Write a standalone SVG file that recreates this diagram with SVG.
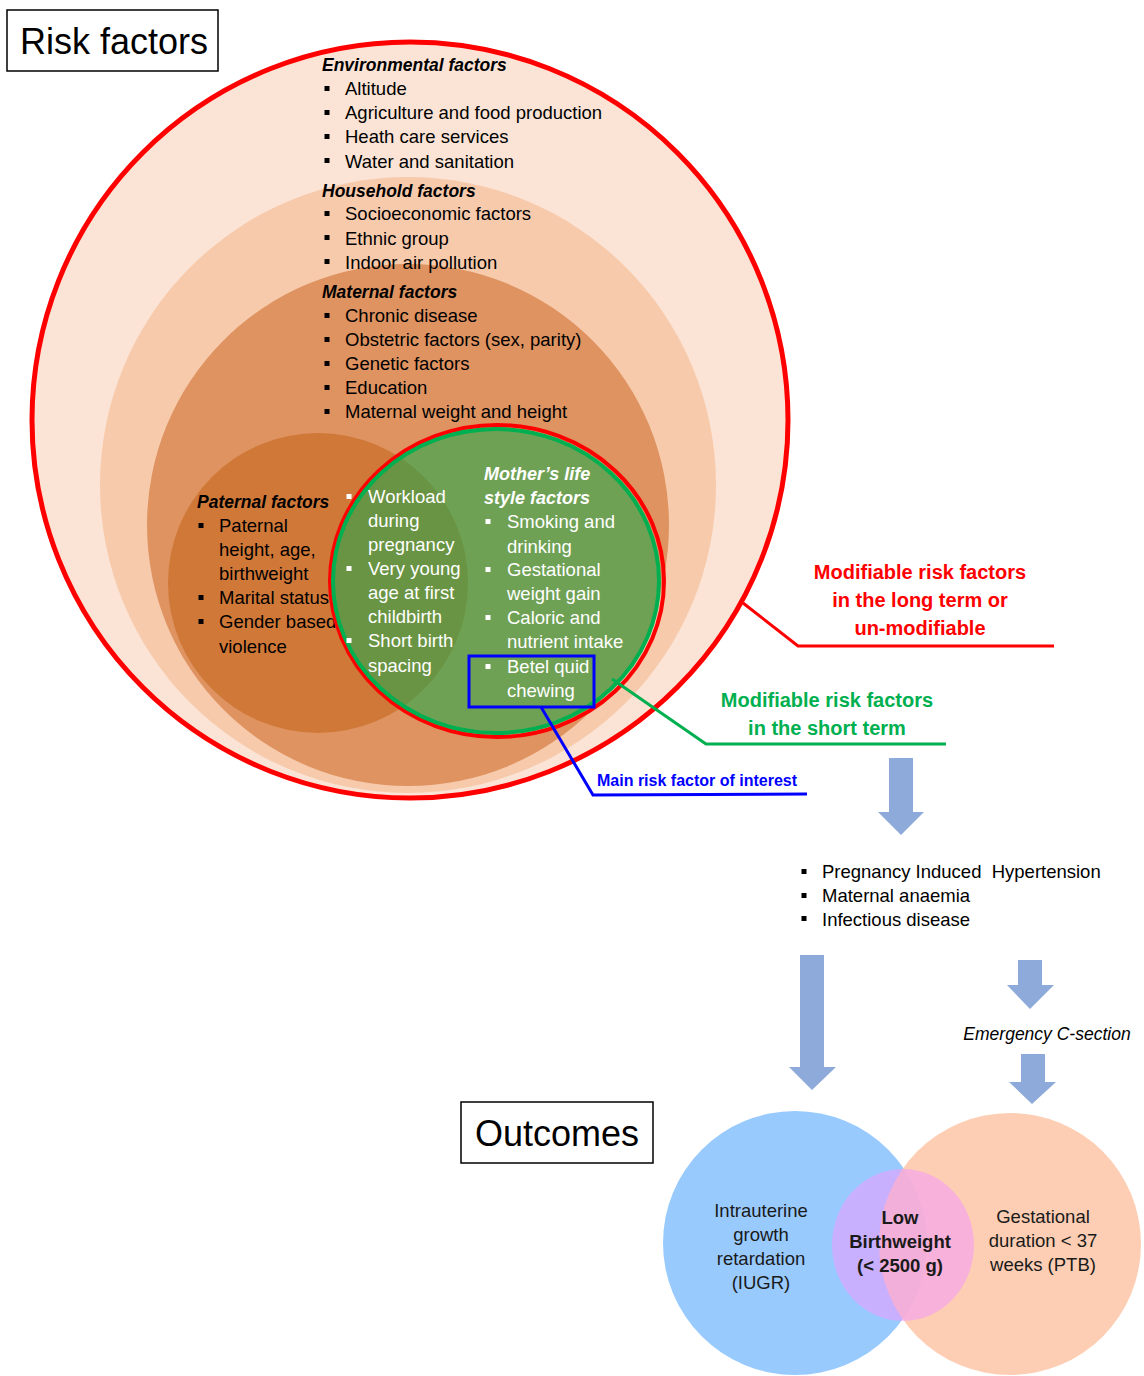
<svg xmlns="http://www.w3.org/2000/svg" width="1144" height="1376" viewBox="0 0 1144 1376">
<style>
text{font-family:"Liberation Sans",Arial,sans-serif;}
.b{font-size:18.5px;fill:#000;}
.w{font-size:18.5px;fill:#fff;}
.h{font-size:17.5px;font-weight:bold;font-style:italic;fill:#000;}
.hw{font-size:18px;font-weight:bold;font-style:italic;fill:#fff;}
.o{font-size:18.5px;fill:#1a1a1a;text-anchor:middle;}
.ob{font-size:18.5px;font-weight:bold;fill:#1a1a1a;text-anchor:middle;}
.red{font-size:20px;font-weight:bold;fill:#ff0000;text-anchor:middle;}
.grn{font-size:20px;font-weight:bold;fill:#00b050;text-anchor:middle;}
.blu{font-size:16px;font-weight:bold;fill:#0000ff;}
.ttl{font-size:36px;fill:#000;}
.bk{fill:#000;}
.wt{fill:#fff;}
.arrow{fill:#8eaadb;}
.lead{fill:none;stroke-width:3;}
</style>
<defs>
<clipPath id="greenClip"><ellipse cx="496" cy="581" rx="163" ry="152"/></clipPath>
</defs>
<rect width="1144" height="1376" fill="#fff"/>

<g id="title-risk">
<rect x="7" y="10" width="211" height="61" fill="#fff" stroke="#000" stroke-width="1.5"/>
<text class="ttl" x="20" y="54">Risk factors</text>
</g>

<g id="environmental">
<circle cx="410" cy="420" r="378" fill="#fbe4d5" stroke="#ff0000" stroke-width="5"/>
</g>
<g id="household">
<circle cx="408" cy="485" r="308" fill="#f7caac"/>
</g>
<g id="maternal">
<circle cx="408" cy="525" r="261" fill="#de9360"/>
</g>
<g id="paternal">
<circle cx="318" cy="583" r="150" fill="#d07838"/>
<text class="h" x="197" y="508">Paternal factors</text>
<rect class="bk" x="198.5" y="523" width="5" height="5"/><text class="b" x="219" y="532">Paternal</text>
<text class="b" x="219" y="556">height, age,</text>
<text class="b" x="219" y="580">birthweight</text>
<rect class="bk" x="198.5" y="595" width="5" height="5"/><text class="b" x="219" y="604">Marital status</text>
<rect class="bk" x="198.5" y="619" width="5" height="5"/><text class="b" x="219" y="628">Gender based</text>
<text class="b" x="219" y="653">violence</text>
</g>

<g id="lifestyle">
<ellipse cx="496" cy="581" rx="163" ry="152" fill="#6fa155"/>
<circle cx="318" cy="583" r="150" fill="#699443" clip-path="url(#greenClip)"/>
<ellipse cx="497" cy="581" rx="167" ry="156" fill="none" stroke="#ff0000" stroke-width="4"/>
<ellipse cx="496" cy="581" rx="163" ry="152" fill="none" stroke="#00b050" stroke-width="4"/>
<rect class="wt" x="346.5" y="494" width="5" height="5"/><text class="w" x="368" y="503">Workload</text>
<text class="w" x="368" y="527">during</text>
<text class="w" x="368" y="551">pregnancy</text>
<rect class="wt" x="346.5" y="566" width="5" height="5"/><text class="w" x="368" y="575">Very young</text>
<text class="w" x="368" y="599">age at first</text>
<text class="w" x="368" y="623">childbirth</text>
<rect class="wt" x="346.5" y="638" width="5" height="5"/><text class="w" x="368" y="647">Short birth</text>
<text class="w" x="368" y="672">spacing</text>
<text class="hw" x="484" y="480">Mother’s life</text>
<text class="hw" x="484" y="504">style factors</text>
<rect class="wt" x="485.5" y="519" width="5" height="5"/><text class="w" x="507" y="528">Smoking and</text>
<text class="w" x="507" y="553">drinking</text>
<rect class="wt" x="485.5" y="567" width="5" height="5"/><text class="w" x="507" y="576">Gestational</text>
<text class="w" x="507" y="600">weight gain</text>
<rect class="wt" x="485.5" y="615" width="5" height="5"/><text class="w" x="507" y="624">Caloric and</text>
<text class="w" x="507" y="648">nutrient intake</text>
</g>

<g id="betel">
<rect x="469" y="656" width="125" height="51" fill="none" stroke="#0000ff" stroke-width="3"/>
<rect class="wt" x="485.5" y="664" width="5" height="5"/><text class="w" x="507" y="673">Betel quid</text>
<text class="w" x="507" y="697">chewing</text>
</g>

<g id="env-text">
<text class="h" x="322" y="71">Environmental factors</text>
<rect class="bk" x="324.5" y="86" width="5" height="5"/><text class="b" x="345" y="95">Altitude</text>
<rect class="bk" x="324.5" y="110" width="5" height="5"/><text class="b" x="345" y="119">Agriculture and food production</text>
<rect class="bk" x="324.5" y="134" width="5" height="5"/><text class="b" x="345" y="143">Heath care services</text>
<rect class="bk" x="324.5" y="158" width="5" height="5"/><text class="b" x="345" y="168">Water and sanitation</text>
<text class="h" x="322" y="197">Household factors</text>
<rect class="bk" x="324.5" y="211" width="5" height="5"/><text class="b" x="345" y="220">Socioeconomic factors</text>
<rect class="bk" x="324.5" y="235" width="5" height="5"/><text class="b" x="345" y="245">Ethnic group</text>
<rect class="bk" x="324.5" y="259" width="5" height="5"/><text class="b" x="345" y="269">Indoor air pollution</text>
<text class="h" x="322" y="298">Maternal factors</text>
<rect class="bk" x="324.5" y="313" width="5" height="5"/><text class="b" x="345" y="322">Chronic disease</text>
<rect class="bk" x="324.5" y="337" width="5" height="5"/><text class="b" x="345" y="346">Obstetric factors (sex, parity)</text>
<rect class="bk" x="324.5" y="361" width="5" height="5"/><text class="b" x="345" y="370">Genetic factors</text>
<rect class="bk" x="324.5" y="385" width="5" height="5"/><text class="b" x="345" y="394">Education</text>
<rect class="bk" x="324.5" y="409" width="5" height="5"/><text class="b" x="345" y="418">Maternal weight and height</text>
</g>

<g id="connectors">
<polyline class="lead" stroke="#ff0000" points="743,603 798,646 1054,646"/>
<polyline class="lead" stroke="#00b050" points="612,679 706,744 946,744"/>
<polyline class="lead" stroke="#0000ff" points="541,707 593,795 807,794"/>
<polygon class="arrow" points="889,758 913,758 913,812 924,812 901,835 878,812 889,812"/>
<polygon class="arrow" points="800,955 824,955 824,1067 836,1067 812,1090 789,1067 800,1067"/>
<polygon class="arrow" points="1018,960 1042,960 1042,985 1054,985 1030,1009 1007,985 1018,985"/>
<polygon class="arrow" points="1021,1054 1045,1054 1045,1082 1056,1082 1032,1104 1009,1082 1021,1082"/>
</g>

<g id="label-long">
<text class="red" x="920" y="579">Modifiable risk factors</text>
<text class="red" x="920" y="607">in the long term or</text>
<text class="red" x="920" y="635">un-modifiable</text>
</g>
<g id="label-short">
<text class="grn" x="827" y="707">Modifiable risk factors</text>
<text class="grn" x="827" y="735">in the short term</text>
</g>
<g id="label-main">
<text class="blu" x="597" y="786">Main risk factor of interest</text>
</g>

<g id="intermediate">
<rect class="bk" x="801.5" y="869" width="5" height="5"/><text class="b" x="822" y="878" xml:space="preserve">Pregnancy Induced  Hypertension</text>
<rect class="bk" x="801.5" y="893" width="5" height="5"/><text class="b" x="822" y="902">Maternal anaemia</text>
<rect class="bk" x="801.5" y="916" width="5" height="5"/><text class="b" x="822" y="926">Infectious disease</text>
</g>

<g id="csection">
<text x="1047" y="1040" text-anchor="middle" style="font-size:17.5px;font-style:italic;fill:#000;">Emergency C-section</text>
</g>

<g id="title-outcomes">
<rect x="461" y="1102" width="192" height="61" fill="#fff" stroke="#000" stroke-width="1.5"/>
<text class="ttl" x="557" y="1146" text-anchor="middle">Outcomes</text>
</g>

<g id="iugr">
<circle cx="795" cy="1243" r="132" fill="#99cafe"/>
</g>
<g id="ptb">
<circle cx="1010" cy="1244" r="131" fill="#fdc7a8" fill-opacity="0.88"/>
</g>
<g id="lbw">
<ellipse cx="903" cy="1245" rx="71" ry="76" fill="#f498fd" fill-opacity="0.52"/>
</g>
<g id="outcome-text">
<text class="o" x="761" y="1217">Intrauterine</text>
<text class="o" x="761" y="1241">growth</text>
<text class="o" x="761" y="1265">retardation</text>
<text class="o" x="761" y="1289">(IUGR)</text>
<text class="ob" x="900" y="1224">Low</text>
<text class="ob" x="900" y="1248">Birthweight</text>
<text class="ob" x="900" y="1272">(&lt; 2500 g)</text>
<text class="o" x="1043" y="1223">Gestational</text>
<text class="o" x="1043" y="1247">duration &lt; 37</text>
<text class="o" x="1043" y="1271">weeks (PTB)</text>
</g>
</svg>
